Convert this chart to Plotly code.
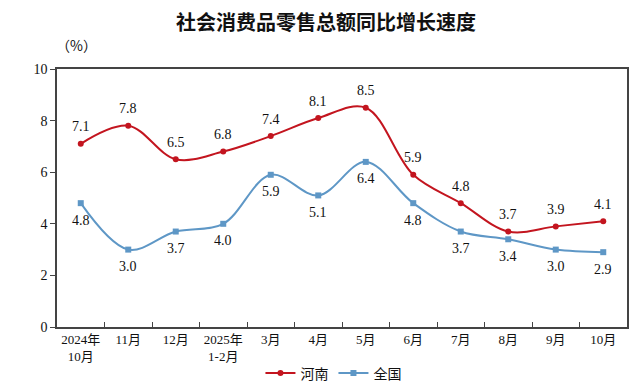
import plotly.graph_objects as go

categories = ["2024年<br>10月", "11月", "12月", "2025年<br>1-2月", "3月", "4月", "5月",
              "6月", "7月", "8月", "9月", "10月"]
henan = [7.1, 7.8, 6.5, 6.8, 7.4, 8.1, 8.5, 5.9, 4.8, 3.7, 3.9, 4.1]
national = [4.8, 3.0, 3.7, 4.0, 5.9, 5.1, 6.4, 4.8, 3.7, 3.4, 3.0, 2.9]

RED = "#C3151F"
BLUE = "#5E97C6"
FONT = "Liberation Serif, Noto Sans CJK SC, serif"

fig = go.Figure()
fig.add_trace(go.Scatter(
    x=categories, y=henan, name="河南", mode="lines+markers",
    line=dict(color=RED, width=2, shape="spline", smoothing=1.0),
    marker=dict(symbol="circle", size=6, color=RED),
))
fig.add_trace(go.Scatter(
    x=categories, y=national, name="全国", mode="lines+markers",
    line=dict(color=BLUE, width=2, shape="spline", smoothing=1.0),
    marker=dict(symbol="square", size=6, color=BLUE),
))

annotations = [
    dict(text="<b>社会消费品零售总额同比增长速度</b>", xref="paper", yref="paper",
         x=(326 - 57) / 570, y=(327 - 22) / 258, xanchor="center", yanchor="middle",
         showarrow=False, font=dict(size=20, family="Noto Sans CJK SC, sans-serif", color="#111111")),
    dict(text="（%）", xref="paper", yref="paper",
         x=(76 - 57) / 570, y=(327 - 45) / 258, xanchor="center", yanchor="middle",
         showarrow=False, font=dict(size=14, family="Noto Sans CJK SC, sans-serif", color="#111111")),
]
for c, v in zip(categories, henan):
    annotations.append(dict(x=c, y=v, xref="x", yref="y", text=f"{v:.1f}", showarrow=False,
                            yshift=17, font=dict(size=14, family=FONT, color="#111111")))
for c, v in zip(categories, national):
    annotations.append(dict(x=c, y=v, xref="x", yref="y", text=f"{v:.1f}", showarrow=False,
                            yshift=-17, font=dict(size=14, family=FONT, color="#111111")))

fig.update_layout(
    width=640, height=389,
    margin=dict(l=57, r=13, t=69, b=62, autoexpand=False),
    paper_bgcolor="white", plot_bgcolor="white",
    font=dict(family=FONT, size=13, color="#111111"),
    showlegend=True,
    legend=dict(orientation="h", x=0.485, xanchor="center", y=-0.18, yanchor="middle",
                font=dict(size=14, family="Noto Sans CJK SC, sans-serif"),
                itemwidth=30, tracegroupgap=0),
    annotations=annotations,
)
fig.update_xaxes(
    type="category", range=[-0.5, 11.5], showline=True, linecolor="#444444", linewidth=1.5,
    mirror=True, ticks="inside", tickson="boundaries", ticklen=5, tickcolor="#444444",
    showgrid=False, tickangle=0, automargin=False, tickfont=dict(size=13, family=FONT),
)
fig.update_yaxes(
    range=[0, 10], dtick=2, showline=True, linecolor="#444444", linewidth=1.5, mirror=True,
    ticks="outside", ticklen=5, tickcolor="#444444", showgrid=False, zeroline=False,
    automargin=False, tickfont=dict(size=14, family=FONT),
)

fig.write_html("out.html", config={"displayModeBar": False},
               post_script="document.body.style.margin='0';")
